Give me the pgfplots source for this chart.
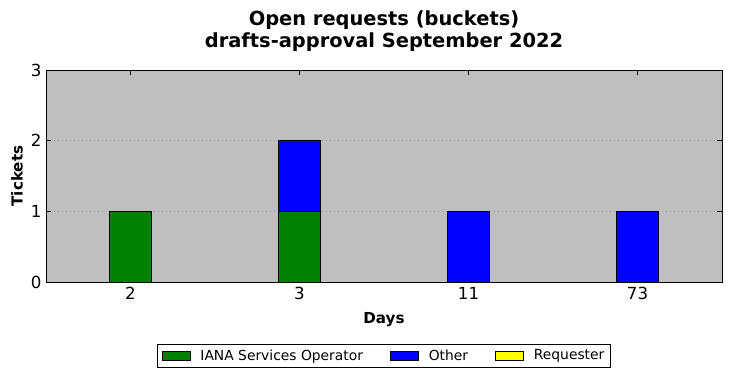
\documentclass[border=0pt]{standalone}
\usepackage{pgfplots}
\pgfplotsset{compat=1.18}
\usepackage{fontspec}
\setmainfont{DejaVu Sans}
\definecolor{bgc}{RGB}{191,191,191}
\definecolor{mgreen}{RGB}{0,128,0}
\definecolor{mblue}{RGB}{0,0,255}
\definecolor{myellow}{RGB}{255,255,0}
\begin{document}
\begin{tikzpicture}[x=1bp,y=1bp]
\path (0,0) rectangle (731,378);
\begin{axis}[
  at={(46bp,96bp)}, anchor=south west,
  scale only axis, width=676bp, height=212bp,
  ybar stacked, bar width=0.25,
  xmin=-0.5, xmax=3.5, ymin=0, ymax=3,
  xtick={0,1,2,3}, xticklabels={2,3,11,73},
  ytick={0,1,2,3},
  tick align=inside,
  major tick length=5bp,
  xtick pos=both, ytick pos=both,
  tick style={black, line width=0.6pt},
  /pgf/number format/assume math mode=true,
  ticklabel style={font=\fontsize{16.7}{19}\selectfont},
  xticklabel style={yshift=-2bp},
  yticklabel style={xshift=-1bp},
  axis background/.style={fill=bgc},
  ymajorgrids, major grid style={gray!80, dash pattern=on 1bp off 3bp, line width=0.6pt},
  axis line style={line width=0.8pt},
  title={\textbf{Open requests (buckets)}\\\textbf{drafts-approval September 2022}},
  title style={align=center, font=\fontsize{19.5}{22.5}\selectfont, at={(0.5,1.155)}, anchor=center},
  xlabel={\textbf{Days}},
  ylabel={\textbf{Tickets}},
  label style={font=\fontsize{15.2}{17}\selectfont},
  xlabel style={at={(0.5,-0.179)}, anchor=center},
  ylabel style={at={(-0.043,0.5)}, anchor=center},
  legend style={at={(0.5,-0.347)}, anchor=center, legend columns=3,
    font=\fontsize{13.9}{16}\selectfont, draw=black, line width=0.6pt,
    /tikz/every even column/.append style={column sep=25bp},
    /tikz/every odd column/.append style={column sep=8bp},
    inner xsep=4bp, inner ysep=3.5bp},
  legend image code/.code={\draw[#1, draw=black, line width=0.8pt] (0bp,-4.5bp) rectangle (28bp,4.5bp);},
]
\addplot[fill=mgreen, draw=black, line width=0.8pt] coordinates {(0,1) (1,1) (2,0) (3,0)};
\addplot[fill=mblue, draw=black, line width=0.8pt] coordinates {(0,0) (1,1) (2,1) (3,1)};
\addplot[fill=myellow, draw=black, line width=0.8pt] coordinates {(0,0) (1,0) (2,0) (3,0)};
\legend{IANA Services Operator, Other, Requester}
\end{axis}
\end{tikzpicture}
\end{document}
